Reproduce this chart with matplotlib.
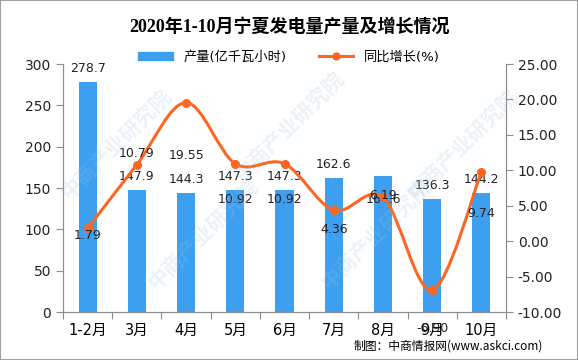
import matplotlib.pyplot as plt
from matplotlib.path import Path
from matplotlib.patches import PathPatch, Rectangle
from matplotlib.lines import Line2D
from matplotlib.ticker import FormatStrFormatter

plt.rcParams['font.family'] = ['DejaVu Sans', 'Noto Sans CJK SC']

# data
months = ['1-2月', '3月', '4月', '5月', '6月', '7月', '8月', '9月', '10月']
output = [278.7, 147.9, 144.3, 147.3, 147.3, 162.6, 164.6, 136.3, 144.2]
growth = [1.79, 10.79, 19.55, 10.92, 10.92, 4.36, 6.19, -6.90, 9.74]

# label offsets in points (styling only)
bar_lab_dy = [5, 5, 5, 5, 5, 5, -22, 5, 5]
line_lab_dy = [-5, 8, -38, -26, -26, -14, 1, -28, -30]

BLUE = '#3d9ff0'
ORANGE = '#fc6621'
GRAY = '#8c8c8c'

fig = plt.figure(figsize=(5.78, 3.60), dpi=100)
ax1 = fig.add_axes([63 / 578, 1 - 312 / 360, 443 / 578, 248 / 360])
ax2 = ax1.twinx()

x = list(range(len(months)))
ax1.bar(x, output, width=0.37, color=BLUE, zorder=2)
ax1.set_xlim(-0.5, len(months) - 0.5)
ax1.set_ylim(0, 300)
ax1.set_yticks(range(0, 301, 50))
ax2.set_ylim(-10, 25)
ax2.set_yticks(range(-10, 26, 5))
ax2.yaxis.set_major_formatter(FormatStrFormatter('%.2f'))

# smooth line through the growth points (Catmull-Rom -> cubic Bezier)
pts = list(zip(x, growth))
verts = [pts[0]]
codes = [Path.MOVETO]
for i in range(len(pts) - 1):
    p0 = pts[i - 1] if i > 0 else pts[i]
    p1 = pts[i]
    p2 = pts[i + 1]
    p3 = pts[i + 2] if i + 2 < len(pts) else pts[i + 1]
    c1 = (p1[0] + (p2[0] - p0[0]) / 6, p1[1] + (p2[1] - p0[1]) / 6)
    c2 = (p2[0] - (p3[0] - p1[0]) / 6, p2[1] - (p3[1] - p1[1]) / 6)
    verts += [c1, c2, p2]
    codes += [Path.CURVE4] * 3
ax2.add_patch(PathPatch(Path(verts, codes), fill=False, edgecolor=ORANGE,
                        lw=2.2, zorder=3, capstyle='round'))
ax2.plot(x, growth, 'o', color=ORANGE, ms=5.5, zorder=4)

# value labels
for xi, v, dy in zip(x, output, bar_lab_dy):
    ax1.annotate(f'{v:.1f}', (xi, v), xytext=(0, dy), textcoords='offset points',
                 ha='center', va='bottom', fontsize=9, color='#222222')
for xi, v, dy in zip(x, growth, line_lab_dy):
    ax2.annotate(f'{v:.2f}', (xi, v), xytext=(0, dy), textcoords='offset points',
                 ha='center', va='center', fontsize=9, color='#222222', zorder=5)

# axes styling
for ax in (ax1, ax2):
    ax.spines['top'].set_visible(False)
    for s in ('left', 'right', 'bottom'):
        ax.spines[s].set_color(GRAY)
    ax.tick_params(colors=GRAY, labelcolor='#222222', labelsize=10, length=5)
ax1.set_xticks([i + 0.5 for i in range(-1, len(months))])
ax1.set_xticklabels([])
ax1.set_xticks(x, minor=True)
ax1.set_xticklabels(months, minor=True, fontsize=10.5)
ax1.tick_params(axis='x', which='minor', length=0, pad=8)
ax1.tick_params(axis='x', which='major', length=5)

# legend
handles = [Rectangle((0, 0), 1, 1, color=BLUE),
           Line2D([], [], color=ORANGE, lw=2.2, marker='o', ms=5)]
fig.legend(handles, ['产量(亿千瓦小时)', '同比增长(%)'], loc='center',
           bbox_to_anchor=(0.5, 1 - 57 / 360), ncol=2, frameon=False,
           fontsize=9.5, handlelength=2.6, handleheight=0.6, columnspacing=2.5)

fig.text(0.5, 1 - 27 / 360, '2020年1-10月宁夏发电量产量及增长情况', ha='center', va='center',
         fontsize=13, fontweight='bold', family=['Liberation Serif', 'Noto Sans CJK SC'])
fig.text(543 / 578, 1 - 346 / 360, '制图：中商情报网(www.askci.com)', ha='right', va='center',
         fontsize=8.5, family=['Noto Sans CJK SC', 'DejaVu Sans'])

# faint watermark
for wx, wy in [(0.2, 0.6), (0.5, 0.65), (0.8, 0.6), (0.35, 0.35), (0.65, 0.35)]:
    fig.text(wx, wy, '中商产业研究院', rotation=45, fontsize=15, color='#9cc4e4', alpha=0.22,
             ha='center', va='center', family='Noto Sans CJK SC', fontweight='bold')

fig.patches.append(Rectangle((0, 0), 1, 1, transform=fig.transFigure, fill=False,
                             edgecolor='#a0a0a0', lw=1.5))

fig.savefig('out.png', dpi=100)
